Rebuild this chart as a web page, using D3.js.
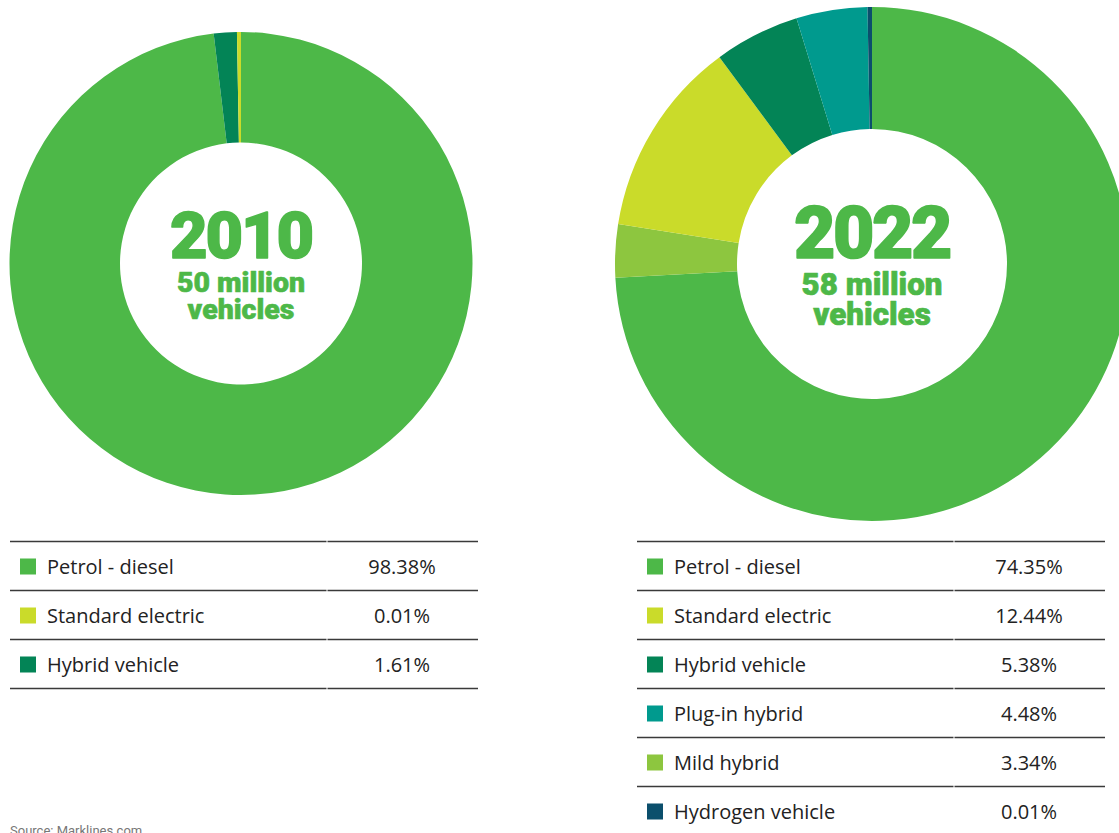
<!DOCTYPE html>
<html>
<head>
<meta charset="utf-8">
<script src="https://cdn.jsdelivr.net/npm/d3@7"></script>
<style>
  html, body { margin: 0; padding: 0; background: #fff; }
  svg { display: block; }
</style>
</head>
<body>
<svg id="chart" width="1119" height="833"></svg>
<script>
// ---- Data ----
const categories2010 = ["Petrol - diesel", "Standard electric", "Hybrid vehicle"];
const values2010 = [98.38, 0.01, 1.61];
const pieOrder2010 = ["Petrol - diesel", "Hybrid vehicle", "Standard electric"];

const categories2022 = ["Petrol - diesel", "Standard electric", "Hybrid vehicle", "Plug-in hybrid", "Mild hybrid", "Hydrogen vehicle"];
const values2022 = [74.35, 12.44, 5.38, 4.48, 3.34, 0.01];
const pieOrder2022 = ["Petrol - diesel", "Mild hybrid", "Standard electric", "Hybrid vehicle", "Plug-in hybrid", "Hydrogen vehicle"];

const colorNames = ["Petrol - diesel", "Standard electric", "Hybrid vehicle", "Plug-in hybrid", "Mild hybrid", "Hydrogen vehicle"];
const colorValues = ["#4db848", "#cadb2a", "#038456", "#009a8e", "#8dc63f", "#0b4f6c"];

const titles = ["2010", "2022"];
const subtitles1 = ["50 million", "58 million"];
const subtitles2 = ["vehicles", "vehicles"];

// ---- Drawing ----
const svg = d3.select("#chart");
const color = d3.scaleOrdinal().domain(colorNames).range(colorValues);
const textGreen = "#4db848";

function donut(cfg) {
  const { cats, vals, order, cx, cy, rOuter, rInner, title, sub1, sub2, scale } = cfg;
  const data = order.map(name => ({ name, value: vals[cats.indexOf(name)] }));
  // very small shares are drawn with a minimum visible angle
  const pie = d3.pie().sort(null).value(d => Math.max(d.value, 0.28));
  const arc = d3.arc().innerRadius(rInner).outerRadius(rOuter);
  const g = svg.append("g").attr("transform", `translate(${cx},${cy})`);
  g.selectAll("path").data(pie(data)).join("path")
    .attr("d", arc)
    .attr("fill", d => color(d.data.name));

  const t = g.append("g").attr("fill", textGreen)
    .attr("stroke", textGreen).attr("stroke-linejoin", "round")
    .attr("font-family", "Roboto, 'Open Sans', sans-serif")
    .attr("font-weight", 900)
    .attr("text-anchor", "middle");
  t.append("text").attr("y", -5.5 * scale).attr("font-size", 65 * scale)
    .attr("stroke-width", 1.4 * scale)
    .attr("letter-spacing", -2.2 * scale).text(title);
  t.append("text").attr("y", 28.5 * scale).attr("font-size", 28.5 * scale)
    .attr("stroke-width", 0.6 * scale)
    .attr("letter-spacing", 0).text(sub1);
  t.append("text").attr("y", 55.5 * scale).attr("font-size", 28.5 * scale)
    .attr("stroke-width", 0.6 * scale)
    .attr("letter-spacing", 0).text(sub2);
}

donut({ cats: categories2010, vals: values2010, order: pieOrder2010,
  cx: 241, cy: 263.5, rOuter: 231.5, rInner: 121,
  title: titles[0], sub1: subtitles1[0], sub2: subtitles2[0], scale: 1 });

donut({ cats: categories2022, vals: values2022, order: pieOrder2022,
  cx: 872, cy: 264, rOuter: 257, rInner: 135,
  title: titles[1], sub1: subtitles1[1], sub2: subtitles2[1], scale: 1.1 });

function table(cfg) {
  const { cats, vals, x0, x1, xBreak, valueX, top, rowH, bottomLine } = cfg;
  const g = svg.append("g");
  const y = d3.scaleBand().domain(cats).range([top, top + rowH * cats.length]);
  const lines = d3.range(cats.length + (bottomLine ? 1 : 0)).map(i => top + i * rowH);
  lines.forEach(ly => {
    g.append("line").attr("x1", x0).attr("x2", xBreak - 0.5).attr("y1", ly).attr("y2", ly)
      .attr("stroke", "#3a3a3a").attr("stroke-width", 1.4);
    g.append("line").attr("x1", xBreak + 0.5).attr("x2", x1).attr("y1", ly).attr("y2", ly)
      .attr("stroke", "#3a3a3a").attr("stroke-width", 1.4);
  });
  const rows = g.selectAll("g.row").data(cats).join("g").attr("class", "row")
    .attr("transform", d => `translate(0,${y(d)})`);
  rows.append("rect").attr("x", x0 + 10).attr("y", 17).attr("width", 16).attr("height", 16)
    .attr("fill", d => color(d));
  rows.append("text").attr("x", x0 + 37).attr("y", 32.5)
    .attr("font-family", "'Open Sans', sans-serif").attr("font-size", 20)
    .attr("font-weight", 500).attr("fill", "#222").text(d => d);
  rows.append("text").attr("x", valueX).attr("y", 32.5).attr("text-anchor", "middle")
    .attr("font-family", "'Open Sans', sans-serif").attr("font-size", 20)
    .attr("font-weight", 500).attr("fill", "#222")
    .text((d, i) => vals[i].toFixed(2) + "%");
}

table({ cats: categories2010, vals: values2010, x0: 10, x1: 478, xBreak: 327, valueX: 402,
  top: 541.5, rowH: 49, bottomLine: true });
table({ cats: categories2022, vals: values2022, x0: 637, x1: 1105, xBreak: 954, valueX: 1029,
  top: 541.5, rowH: 49, bottomLine: true });

svg.append("text").attr("x", 10).attr("y", 835)
  .attr("font-family", "Roboto, sans-serif").attr("font-size", 13)
  .attr("fill", "#777").text("Source: Marklines.com");
</script>
</body>
</html>
